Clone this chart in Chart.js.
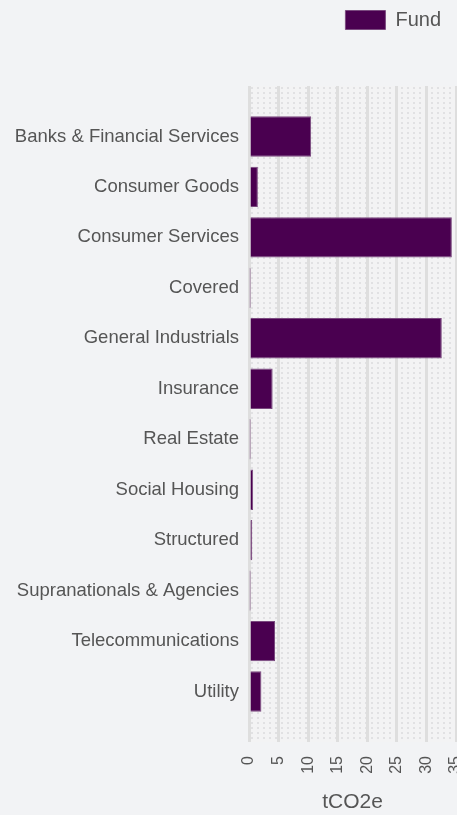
<!DOCTYPE html>
<html>
<head>
<meta charset="utf-8">
<script src="https://cdn.jsdelivr.net/npm/chart.js@4.4.1/dist/chart.umd.min.js"></script>
<style>
  html, body { margin: 0; padding: 0; background: #f2f3f5; }
  #wrap { width: 457px; height: 815px; position: relative; }
</style>
</head>
<body>
<div id="wrap"><canvas id="c" width="457" height="815"></canvas></div>
<script>
const categories = [
  'Banks & Financial Services', 'Consumer Goods', 'Consumer Services', 'Covered',
  'General Industrials', 'Insurance', 'Real Estate', 'Social Housing',
  'Structured', 'Supranationals & Agencies', 'Telecommunications', 'Utility'
];
const fundValues = [10.5, 1.5, 34.3, 0.1, 32.6, 4.0, 0.1, 0.7, 0.55, 0.1, 4.4, 2.1];
const xTicks = [0, 5, 10, 15, 20, 25, 30, 35];
const seriesName = 'Fund';
const axisTitle = 'tCO2e';

// half-slot padding above and below the categories
const labels = [''].concat(categories, ['']);
const data = [null].concat(fundValues, [null]);

function makePattern(ctx) {
  const p = document.createElement('canvas');
  p.width = 6; p.height = 5;
  const g = p.getContext('2d');
  g.fillStyle = '#f3f3f4';
  g.fillRect(0, 0, 6, 5);
  g.fillStyle = '#e1e1e3';
  g.fillRect(2, 1, 2, 2);
  return ctx.createPattern(p, 'repeat');
}

const bgPlugin = {
  id: 'plotBg',
  beforeDraw(chart) {
    const { ctx, chartArea: a } = chart;
    ctx.save();
    ctx.fillStyle = makePattern(ctx);
    ctx.translate(a.left, a.top);
    ctx.fillRect(0, 0, a.right - a.left, a.bottom - a.top);
    ctx.restore();
  }
};

const legendGap = {
  id: 'legendGap',
  beforeInit(chart) {
    const origFit = chart.legend.fit;
    chart.legend.fit = function () {
      origFit.bind(chart.legend)();
      this.height += 46;
    };
  },
  afterLayout(chart) {
    chart.legend.right = chart.width - 6;
  }
};

Chart.defaults.font.family = '"Liberation Sans", Arial, sans-serif';
Chart.defaults.color = '#555555';

new Chart(document.getElementById('c'), {
  type: 'bar',
  data: {
    labels: labels,
    datasets: [{
      label: seriesName,
      data: data,
      backgroundColor: '#4a0050',
      borderColor: '#7a4a7f',
      borderWidth: 1,
      barPercentage: 0.8,
      categoryPercentage: 1.0
    }]
  },
  options: {
    indexAxis: 'y',
    responsive: false,
    animation: false,
    layout: { padding: { right: 1, bottom: 0 } },
    plugins: {
      legend: {
        position: 'top',
        align: 'end',
        labels: { boxWidth: 40, boxHeight: 19, font: { size: 20 }, padding: 10, color: '#555555' }
      },
      tooltip: { enabled: false }
    },
    scales: {
      x: {
        min: 0,
        max: 35,
        afterBuildTicks(scale) { scale.ticks = xTicks.map(v => ({ value: v })); },
        afterFit(scale) { scale.paddingRight = 0; scale.paddingLeft = 0; scale.height = 73; },
        ticks: { minRotation: 90, maxRotation: 90, font: { size: 16 }, padding: 14, color: '#555555' },
        grid: { color: '#dedede', lineWidth: 3, drawTicks: false },
        border: { display: false },
        title: { display: true, text: axisTitle, font: { size: 21 }, color: '#555555', padding: { top: 1, bottom: 0 } }
      },
      y: {
        offset: false,
        afterFit(scale) { scale.width = 249; },
        ticks: { font: { size: 18.5 }, padding: 2, color: '#555555', autoSkip: false },
        grid: { display: false },
        border: { display: false }
      }
    }
  },
  plugins: [bgPlugin, legendGap]
});
</script>
</body>
</html>
